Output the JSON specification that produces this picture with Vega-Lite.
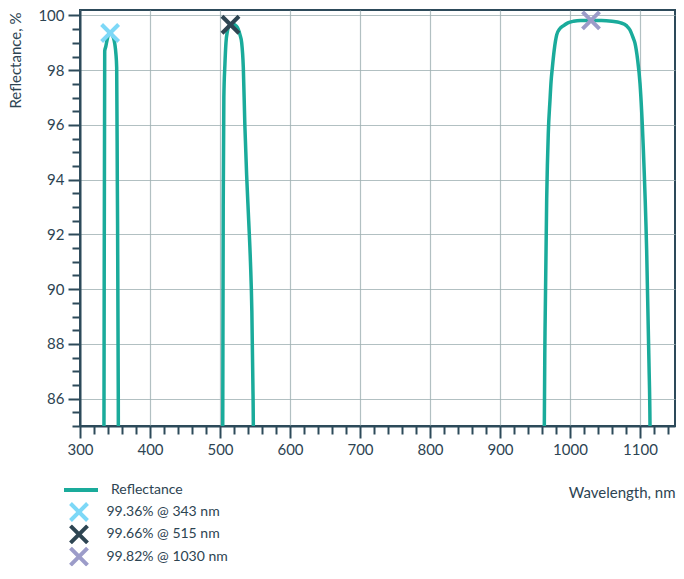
{
  "$schema": "https://vega.github.io/schema/vega-lite/v6.json",
  "width": 595,
  "height": 416,
  "autosize": {"type": "none"},
  "padding": {"left": 80, "top": 10, "right": 9, "bottom": 153},
  "background": "white",
  "config": {
    "font": "Lato",
    "view": {"stroke": "#2d4a5a", "strokeWidth": 2},
    "axis": {"labelFont": "Lato", "titleFont": "Lato", "labelColor": "#2d4452", "titleColor": "#2d4452", "labelFontSize": 15, "titleFontSize": 15, "titleFontWeight": "normal", "domainColor": "#2d4a5a", "domainWidth": 2, "tickColor": "#2d4a5a", "tickWidth": 2, "gridColor": "#9fb0b3", "gridWidth": 1.2, "gridOpacity": 0.8, "labelFlush": false},
    "legend": {"labelFont": "Lato", "labelFontSize": 14, "labelColor": "#2d4452"}
  },
  "datasets": {
    "curve": [
      {"wl": 333.9, "r": 80, "band": 1, "series": "Reflectance"},
      {"wl": 334.3, "r": 86, "band": 1, "series": "Reflectance"},
      {"wl": 335.3, "r": 98.7, "band": 1, "series": "Reflectance"},
      {"wl": 336.8, "r": 98.86, "band": 1, "series": "Reflectance"},
      {"wl": 338.8, "r": 99.12, "band": 1, "series": "Reflectance"},
      {"wl": 341.0, "r": 99.32, "band": 1, "series": "Reflectance"},
      {"wl": 343.0, "r": 99.36, "band": 1, "series": "Reflectance"},
      {"wl": 345.3, "r": 99.3, "band": 1, "series": "Reflectance"},
      {"wl": 347.6, "r": 99.2, "band": 1, "series": "Reflectance"},
      {"wl": 349.8, "r": 98.95, "band": 1, "series": "Reflectance"},
      {"wl": 351.3, "r": 98.6, "band": 1, "series": "Reflectance"},
      {"wl": 352.4, "r": 98.1, "band": 1, "series": "Reflectance"},
      {"wl": 353.3, "r": 94.0, "band": 1, "series": "Reflectance"},
      {"wl": 354.7, "r": 86, "band": 1, "series": "Reflectance"},
      {"wl": 355.0, "r": 80, "band": 1, "series": "Reflectance"},
      {"wl": 503.5, "r": 80, "band": 2, "series": "Reflectance"},
      {"wl": 504.0, "r": 86, "band": 2, "series": "Reflectance"},
      {"wl": 504.6, "r": 93, "band": 2, "series": "Reflectance"},
      {"wl": 505.5, "r": 97, "band": 2, "series": "Reflectance"},
      {"wl": 507.0, "r": 98.2, "band": 2, "series": "Reflectance"},
      {"wl": 508.5, "r": 99.0, "band": 2, "series": "Reflectance"},
      {"wl": 510.5, "r": 99.42, "band": 2, "series": "Reflectance"},
      {"wl": 513.0, "r": 99.63, "band": 2, "series": "Reflectance"},
      {"wl": 515.0, "r": 99.68, "band": 2, "series": "Reflectance"},
      {"wl": 517.0, "r": 99.7, "band": 2, "series": "Reflectance"},
      {"wl": 520.0, "r": 99.68, "band": 2, "series": "Reflectance"},
      {"wl": 523.0, "r": 99.62, "band": 2, "series": "Reflectance"},
      {"wl": 526.0, "r": 99.5, "band": 2, "series": "Reflectance"},
      {"wl": 528.5, "r": 99.3, "band": 2, "series": "Reflectance"},
      {"wl": 531.0, "r": 99.0, "band": 2, "series": "Reflectance"},
      {"wl": 533.3, "r": 98.1, "band": 2, "series": "Reflectance"},
      {"wl": 535.5, "r": 96.0, "band": 2, "series": "Reflectance"},
      {"wl": 538.0, "r": 94.2, "band": 2, "series": "Reflectance"},
      {"wl": 541.0, "r": 92.5, "band": 2, "series": "Reflectance"},
      {"wl": 543.5, "r": 91.0, "band": 2, "series": "Reflectance"},
      {"wl": 545.5, "r": 89.2, "band": 2, "series": "Reflectance"},
      {"wl": 547.0, "r": 86.5, "band": 2, "series": "Reflectance"},
      {"wl": 547.6, "r": 85, "band": 2, "series": "Reflectance"},
      {"wl": 548.0, "r": 80, "band": 2, "series": "Reflectance"},
      {"wl": 962.8, "r": 80, "band": 3, "series": "Reflectance"},
      {"wl": 963.3, "r": 85, "band": 3, "series": "Reflectance"},
      {"wl": 964.3, "r": 88.4, "band": 3, "series": "Reflectance"},
      {"wl": 966.7, "r": 93.3, "band": 3, "series": "Reflectance"},
      {"wl": 969.0, "r": 95.7, "band": 3, "series": "Reflectance"},
      {"wl": 971.4, "r": 96.9, "band": 3, "series": "Reflectance"},
      {"wl": 973.0, "r": 97.6, "band": 3, "series": "Reflectance"},
      {"wl": 974.8, "r": 98.1, "band": 3, "series": "Reflectance"},
      {"wl": 977.5, "r": 98.75, "band": 3, "series": "Reflectance"},
      {"wl": 981.0, "r": 99.29, "band": 3, "series": "Reflectance"},
      {"wl": 985.0, "r": 99.5, "band": 3, "series": "Reflectance"},
      {"wl": 990.4, "r": 99.62, "band": 3, "series": "Reflectance"},
      {"wl": 997.0, "r": 99.73, "band": 3, "series": "Reflectance"},
      {"wl": 1005.0, "r": 99.79, "band": 3, "series": "Reflectance"},
      {"wl": 1015.0, "r": 99.82, "band": 3, "series": "Reflectance"},
      {"wl": 1030.0, "r": 99.82, "band": 3, "series": "Reflectance"},
      {"wl": 1045.0, "r": 99.82, "band": 3, "series": "Reflectance"},
      {"wl": 1060.0, "r": 99.79, "band": 3, "series": "Reflectance"},
      {"wl": 1071.4, "r": 99.74, "band": 3, "series": "Reflectance"},
      {"wl": 1081.0, "r": 99.62, "band": 3, "series": "Reflectance"},
      {"wl": 1085.7, "r": 99.47, "band": 3, "series": "Reflectance"},
      {"wl": 1090.0, "r": 99.2, "band": 3, "series": "Reflectance"},
      {"wl": 1092.9, "r": 98.98, "band": 3, "series": "Reflectance"},
      {"wl": 1096.5, "r": 98.4, "band": 3, "series": "Reflectance"},
      {"wl": 1100.0, "r": 97.52, "band": 3, "series": "Reflectance"},
      {"wl": 1104.8, "r": 95.1, "band": 3, "series": "Reflectance"},
      {"wl": 1109.5, "r": 91.43, "band": 3, "series": "Reflectance"},
      {"wl": 1112.9, "r": 87.2, "band": 3, "series": "Reflectance"},
      {"wl": 1114.3, "r": 85, "band": 3, "series": "Reflectance"},
      {"wl": 1114.6, "r": 80, "band": 3, "series": "Reflectance"}
    ],
    "markers": [
      {"wl": 343, "r": 99.36, "label": "99.36% @ 343 nm"},
      {"wl": 515, "r": 99.66, "label": "99.66% @ 515 nm"},
      {"wl": 1030, "r": 99.82, "label": "99.82% @ 1030 nm"}
    ]
  },
  "layer": [
    {
      "data": {"name": "curve"},
      "mark": {"type": "line", "strokeWidth": 3.5, "interpolate": "monotone", "clip": true},
      "encoding": {
        "x": {"field": "wl", "type": "quantitative", "scale": {"domain": [300, 1150], "nice": false, "zero": false},
          "axis": {"orient": "bottom", "format": "d", "values": [300, 400, 500, 600, 700, 800, 900, 1000, 1100], "tickSize": 12, "labelPadding": 4, "grid": true, "title": "Wavelength, nm", "titleAnchor": "end", "titleAlign": "right", "titleX": 595, "titleY": 66, "titleBaseline": "middle"}},
        "y": {"field": "r", "type": "quantitative", "scale": {"domain": [85, 100.2], "nice": false, "zero": false},
          "axis": {"orient": "left", "values": [86, 88, 90, 92, 94, 96, 98, 100], "tickSize": 12, "labelPadding": 4, "grid": true, "title": "Reflectance, %", "titleAngle": -90, "titleAlign": "right", "titleBaseline": "middle", "titleX": -65, "titleY": 2}},
        "detail": {"field": "band"},
        "order": {"field": "wl", "type": "quantitative"},
        "color": {"field": "series", "type": "nominal", "scale": {"domain": ["Reflectance"], "range": ["#1aab9b"]},
          "legend": {"title": null, "orient": "none", "legendX": -18, "legendY": 461, "symbolType": "stroke", "symbolSize": 1156, "symbolStrokeWidth": 4, "labelOffset": 11}}
      }
    },
    {
      "data": {"name": "markers"},
      "mark": {"type": "point", "shape": "M-1,-1L1,1M-1,1L1,-1", "filled": false, "strokeWidth": 4, "size": 289, "opacity": 1, "clip": false},
      "encoding": {
        "x": {"field": "wl", "type": "quantitative",
          "axis": {"orient": "bottom", "values": [320, 340, 360, 380, 420, 440, 460, 480, 520, 540, 560, 580, 620, 640, 660, 680, 720, 740, 760, 780, 820, 840, 860, 880, 920, 940, 960, 980, 1020, 1040, 1060, 1080, 1120, 1140], "tickSize": 8, "labels": false, "domain": false, "grid": false, "title": null}},
        "y": {"field": "r", "type": "quantitative",
          "axis": {"orient": "left", "values": [85, 85.5, 86.5, 87, 87.5, 88.5, 89, 89.5, 90.5, 91, 91.5, 92.5, 93, 93.5, 94.5, 95, 95.5, 96.5, 97, 97.5, 98.5, 99, 99.5], "tickSize": 8, "labels": false, "domain": false, "grid": false, "title": null}},
        "color": {"field": "label", "type": "nominal", "scale": {"domain": ["99.36% @ 343 nm", "99.66% @ 515 nm", "99.82% @ 1030 nm"], "range": ["#7dd8f7", "#2e4552", "#9c9cc9"]},
          "legend": {"title": null, "orient": "none", "legendX": -11.5, "legendY": 492, "symbolType": "M-1,-1L1,1M-1,1L1,-1", "symbolSize": 289, "symbolStrokeWidth": 4, "labelOffset": 17, "rowPadding": 2.3, "clipHeight": 20}}
      }
    }
  ],
  "resolve": {"scale": {"color": "independent"}, "axis": {"x": "independent", "y": "independent"}, "legend": {"color": "independent"}}
}
